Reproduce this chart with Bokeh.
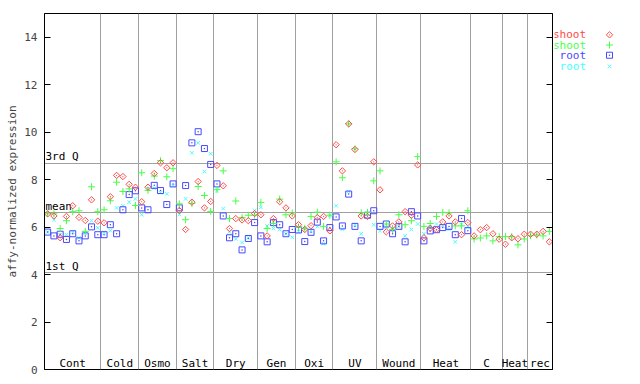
import numpy as np
from bokeh.plotting import figure
from bokeh.models import LinearAxis, FixedTicker, Label, Range1d
from bokeh.layouts import row
from bokeh.core.properties import value
from bokeh.embed import file_html
from bokeh.resources import INLINE

# ---------------- data ----------------
group_names = ["Cont", "Cold", "Osmo", "Salt", "Dry", "Gen", "Oxi", "UV",
               "Wound", "Heat", "C", "Heat", "rec"]
group_sizes = [9, 6, 6, 6, 7, 6, 6, 7, 7, 8, 5, 4, 4]

shoot_red = [6.56, 6.47, 5.55, 6.45, 6.90, 6.41, 6.28, 7.15, 6.25,
             6.18, 7.28, 8.18, 8.13, 7.80, 7.68,
             7.07, 7.68, 8.26, 8.71, 8.50, 8.71,
             6.70, 5.90, 7.05, 7.92, 6.81, 7.08,
             8.60, 7.74, 5.94, 6.36, 6.30, 6.27, 6.57,
             6.52, 5.63, 6.36, 7.07, 6.81, 6.47,
             6.10, 5.90, 6.06, 6.40, 6.45, 5.84,
             9.47, 8.37, 10.35, 9.27, 6.47, 6.45, 8.75,
             7.57, 5.80, 6.05, 6.22, 6.65, 6.50, 8.62,
             5.55, 5.95, 5.89, 6.22, 6.47, 6.22, 5.68, 6.19,
             5.63, 5.89, 5.98, 5.72, 5.49,
             5.28, 5.55, 5.51, 5.70,
             5.70, 5.70, 5.82, 5.38]

shoot_green = [6.56, 6.56, 5.94, 6.27, 6.65, 6.69, 5.82, 7.70, 6.65,
               6.73, 7.11, 7.89, 7.50, 7.61, 6.91,
               8.29, 7.55, 8.15, 8.80, 8.12, 8.46,
               6.98, 6.31, 7.00, 7.71, 7.33, 6.66,
               7.58, 8.37, 6.36, 7.10, 6.40, 6.50, 6.50,
               7.04, 5.94, 6.15, 7.18, 6.52, 6.60,
               6.00, 5.95, 6.45, 6.63, 6.03, 6.50,
               8.75, 8.08, 10.35, 9.30, 6.60, 6.62, 7.95,
               8.37, 6.13, 5.90, 6.52, 6.10, 6.27, 8.97,
               6.03, 6.15, 6.45, 6.62, 6.60, 6.05, 6.05, 6.69,
               5.50, 5.54, 5.63, 5.42, 5.60,
               5.60, 5.60, 5.25, 5.50,
               5.64, 5.67, 5.63, 5.82]

root_blue = [5.79, 5.63, 5.70, 5.48, 5.72, 5.42, 5.63, 6.01, 5.68,
             5.68, 6.10, 5.72, 6.73, 7.37, 7.53,
             6.81, 6.73, 7.76, 7.54, 6.95, 7.82,
             6.81, 7.75, 9.55, 10.02, 9.31, 8.64,
             7.82, 6.47, 5.55, 5.72, 5.04, 5.52, 6.19,
             5.63, 5.38, 6.19, 6.10, 5.72, 5.90,
             5.88, 5.39, 5.78, 6.21, 5.42, 5.98,
             6.43, 6.05, 7.39, 6.03, 5.42, 6.50, 6.69,
             6.03, 6.13, 5.72, 6.03, 5.38, 6.65, 6.47,
             5.42, 5.84, 5.89, 5.98, 6.03, 5.68, 6.36, 5.85]

root_cyan = [5.79, 6.31, 5.68, 5.68, 5.79, 5.55, 5.75, 6.27, 5.97,
             5.77, 5.85, 6.81, 6.90, 7.05, 7.19,
             6.52, 7.61, 7.64, 7.45, 7.40, 7.75,
             6.53, 7.19, 9.13, 9.55, 8.34, 9.09,
             7.54, 6.78, 5.80, 5.50, 5.35, 5.55, 6.70,
             6.83, 6.05, 5.94, 5.90, 5.72, 5.57,
             5.80, 5.95, 5.85, 6.02, 5.30, 6.50,
             6.90, 5.91, 7.50, 6.10, 5.72, 6.45, 6.10,
             5.85, 6.00, 5.95, 6.03, 5.63, 5.90, 6.13,
             5.72, 6.00, 6.13, 6.05, 5.90, 5.38, 6.10, 6.00]

quart_names = ["3rd Q", "mean", "1st Q"]
quart_values = [8.68, 6.61, 4.08]

y_ticks = [0, 2, 4, 6, 8, 10, 12, 14]
legend_labels = ["shoot", "shoot", "root", "root"]

# ---------------- styles ----------------
FONT = "DejaVu Sans Mono"
RED, GREEN, BLUE, CYAN = "#ff4848", "#48ff48", "#4848ff", "#48ffff"
GRID = "#a0a0a0"
DIAMOND = dict(marker="square_dot", size=4.5, angle=np.pi / 4)

n_total = sum(group_sizes)
bounds = np.cumsum(group_sizes)
starts = bounds - np.array(group_sizes)
centers = (starts + bounds) / 2.0

p = figure(width=554, height=384, x_range=(0, n_total), y_range=(0, 15),
           output_backend="svg", toolbar_location=None,
           min_border_left=44, min_border_right=2,
           min_border_top=13, min_border_bottom=15)
p.outline_line_color = "black"
p.outline_line_width = 1
p.background_fill_color = "white"
p.border_fill_color = "white"

p.xaxis.visible = False
yax = p.yaxis[0]
yax.ticker = FixedTicker(ticks=y_ticks)
yax.axis_label = "affy-normalized expression"
yax.axis_label_text_font = FONT
yax.axis_label_text_font_size = "11px"
yax.axis_label_text_font_style = "normal"
yax.axis_label_standoff = 2
yax.major_label_text_font = FONT
yax.major_label_text_font_size = "11px"
yax.major_label_standoff = 7
yax.major_tick_in = 6
yax.major_tick_out = 0
yax.minor_tick_line_color = None
yax.axis_line_color = "black"
yax.major_tick_line_color = "black"

rax = LinearAxis(ticker=FixedTicker(ticks=y_ticks),
                 major_label_overrides={t: "" for t in y_ticks},
                 major_label_text_font_size="11px",
                 major_label_standoff=0, major_tick_in=6, major_tick_out=0,
                 minor_tick_line_color=None, axis_line_color="black")
p.add_layout(rax, "right")

p.xgrid.ticker = FixedTicker(ticks=list(bounds[:-1]))
p.xgrid.grid_line_color = GRID
p.ygrid.ticker = FixedTicker(ticks=quart_values)
p.ygrid.grid_line_color = GRID

# quartile labels
p.text(x=[0] * len(quart_values), y=quart_values, text=quart_names,
       x_offset=1, text_baseline="bottom", text_align="left",
       text_font=value(FONT), text_font_size="11px", text_color="black")

# group labels
p.text(x=list(centers), y=[0] * len(group_names), text=group_names,
       text_align="center", text_baseline="bottom",
       text_font=value(FONT), text_font_size="11px", text_color="black")

p.add_layout(Label(x=bounds[10], y=0, y_offset=-9, text="suspension",
                   text_align="center", text_baseline="alphabetic",
                   text_font=FONT, text_font_size="11px", text_color="black"))

xs_all = np.arange(n_total) + 0.5
xs_root = np.arange(len(root_blue)) + 0.5

p.scatter(xs_root, root_cyan, marker="x", size=5, line_color=CYAN, line_width=1)
p.scatter(xs_root, root_blue, marker="square_dot", size=6, line_color=BLUE,
          fill_color=None, line_width=1)
p.scatter(xs_all, shoot_green, marker="cross", size=7, line_color=GREEN, line_width=1)
p.scatter(xs_all, shoot_red, line_color=RED, fill_color=None, line_width=1, **DIAMOND)

# ---------------- legend panel ----------------
lg = figure(width=86, height=384, x_range=(0, 86), y_range=Range1d(384, 0),
            output_backend="svg", toolbar_location=None,
            min_border_left=0, min_border_right=0, min_border_top=0,
            min_border_bottom=0)
lg.axis.visible = False
lg.grid.visible = False
lg.outline_line_color = None
ly = [23, 34, 45, 57]
lcolors = [RED, GREEN, BLUE, CYAN]
lg.text(x=[31.5] * 4, y=ly, text=legend_labels, text_align="right",
        text_baseline="middle", text_font=value(FONT), text_font_size="11px",
        text_color=lcolors)
lg.scatter([55], [ly[0]], line_color=RED, fill_color=None, **DIAMOND)
lg.scatter([55], [ly[1]], marker="cross", size=7, line_color=GREEN)
lg.scatter([55], [ly[2]], marker="square_dot", size=6, line_color=BLUE, fill_color=None)
lg.scatter([55], [ly[3]], marker="x", size=5, line_color=CYAN)

layout = row(p, lg)
open("out.html", "w").write(file_html(layout, INLINE))
